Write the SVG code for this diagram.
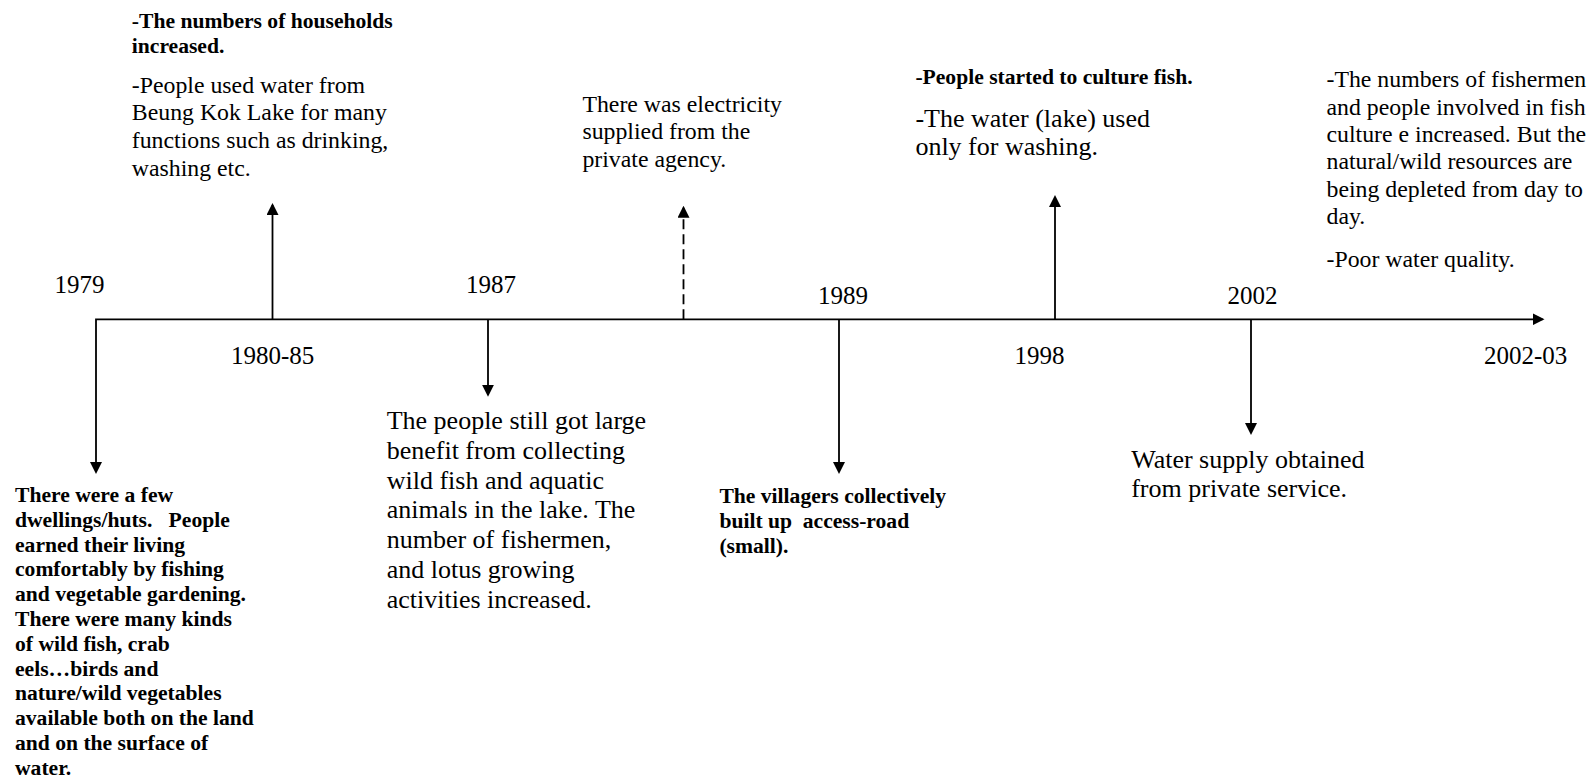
<svg xmlns="http://www.w3.org/2000/svg" width="1591" height="781" viewBox="0 0 1591 781">
<style>
text{font-family:"Liberation Serif","Times New Roman",serif;fill:#000}
.yr{font-size:25px}
.r{font-size:23.8px}
.rl{font-size:26px}
.b{font-size:21.6px;font-weight:bold}
.pre{white-space:pre}
.ln{stroke:#000;stroke-width:1.8;fill:none}
.dash{stroke-dasharray:10 5}
</style>
<defs>
<marker id="ah" viewBox="0 0 12 12" markerUnits="userSpaceOnUse" markerWidth="12" markerHeight="12" refX="10" refY="6" orient="auto-start-reverse">
<path d="M0,0 L12,6 L0,12 z" fill="#000"/>
</marker>
</defs>
<rect x="0" y="0" width="1591" height="781" fill="#fff"/>
<g id="connectors">
<path class="ln" d="M1542.5,319.3 H96 V472" marker-start="url(#ah)" marker-end="url(#ah)"/>
<line class="ln" x1="272.5" y1="319.3" x2="272.5" y2="205" marker-end="url(#ah)"/>
<line class="ln" x1="488" y1="319.3" x2="488" y2="394.7" marker-end="url(#ah)"/>
<line class="ln dash" x1="683.5" y1="319.3" x2="683.5" y2="207.7" marker-end="url(#ah)"/>
<line class="ln" x1="839" y1="319.3" x2="839" y2="472" marker-end="url(#ah)"/>
<line class="ln" x1="1055" y1="319.3" x2="1055" y2="197" marker-end="url(#ah)"/>
<line class="ln" x1="1251" y1="319.3" x2="1251" y2="433" marker-end="url(#ah)"/>
</g>
<g id="year-1979"><text class="yr" x="54.5" y="293.3">1979</text></g>
<g id="year-1980-85"><text class="yr" x="231" y="363.5">1980-85</text></g>
<g id="year-1987"><text class="yr" x="466" y="293.3">1987</text></g>
<g id="year-1989"><text class="yr" x="818" y="304.3">1989</text></g>
<g id="year-1998"><text class="yr" x="1014.5" y="363.5">1998</text></g>
<g id="year-2002"><text class="yr" x="1227.5" y="304.3">2002</text></g>
<g id="year-2002-03"><text class="yr" x="1484" y="363.5">2002-03</text></g>
<g id="note-1980-85">
<text class="b" x="131.8" y="28.3">-The numbers of households</text>
<text class="b" x="131.8" y="53.3">increased.</text>
<text class="r" x="131.8" y="92.7">-People used water from</text>
<text class="r" x="131.8" y="120.4">Beung Kok Lake for many</text>
<text class="r" x="131.8" y="148.1">functions such as drinking,</text>
<text class="r" x="131.8" y="175.7">washing etc.</text>
</g>
<g id="note-electricity">
<text class="r" x="582.4" y="111.7">There was electricity</text>
<text class="r" x="582.4" y="139.2">supplied from the</text>
<text class="r" x="582.4" y="166.7">private agency.</text>
</g>
<g id="note-1998">
<text class="b" x="915.4" y="84.3">-People started to culture fish.</text>
<text class="rl" x="915.4" y="126.7">-The water (lake) used</text>
<text class="rl" x="915.4" y="155">only for washing.</text>
</g>
<g id="note-2002-03">
<text class="r" x="1326.5" y="87.3">-The numbers of fishermen</text>
<text class="r" x="1326.5" y="114.6">and people involved in fish</text>
<text class="r" x="1326.5" y="142">culture e increased. But the</text>
<text class="r" x="1326.5" y="169.3">natural/wild resources are</text>
<text class="r" x="1326.5" y="196.7">being depleted from day to</text>
<text class="r" x="1326.5" y="224">day.</text>
<text class="r" x="1326.5" y="266.7">-Poor water quality.</text>
</g>
<g id="note-1979">
<text class="b" x="15" y="502">There were a few</text>
<text class="b pre" x="15" y="526.8">dwellings/huts.   People</text>
<text class="b" x="15" y="551.6">earned their living</text>
<text class="b" x="15" y="576.4">comfortably by fishing</text>
<text class="b" x="15" y="601.2">and vegetable gardening.</text>
<text class="b" x="15" y="626">There were many kinds</text>
<text class="b" x="15" y="650.8">of wild fish, crab</text>
<text class="b" x="15" y="675.6">eels…birds and</text>
<text class="b" x="15" y="700.4">nature/wild vegetables</text>
<text class="b" x="15" y="725.2">available both on the land</text>
<text class="b" x="15" y="750">and on the surface of</text>
<text class="b" x="15" y="774.8">water.</text>
</g>
<g id="note-1987">
<text class="rl" x="386.7" y="429.3">The people still got large</text>
<text class="rl" x="386.7" y="459">benefit from collecting</text>
<text class="rl" x="386.7" y="488.7">wild fish and aquatic</text>
<text class="rl" x="386.7" y="518.4">animals in the lake. The</text>
<text class="rl" x="386.7" y="548.1">number of fishermen,</text>
<text class="rl" x="386.7" y="577.8">and lotus growing</text>
<text class="rl" x="386.7" y="607.5">activities increased.</text>
</g>
<g id="note-1989">
<text class="b" x="719.4" y="503.3">The villagers collectively</text>
<text class="b pre" x="719.4" y="528.3">built up  access-road</text>
<text class="b" x="719.4" y="553.3">(small).</text>
</g>
<g id="note-2002">
<text class="rl" x="1131.2" y="468.3">Water supply obtained</text>
<text class="rl" x="1131.2" y="496.7">from private service.</text>
</g>
</svg>
